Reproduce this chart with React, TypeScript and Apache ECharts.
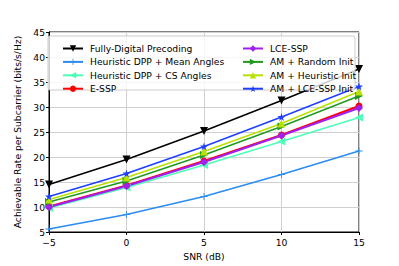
import React, { useEffect, useRef } from "react";
import * as echarts from "echarts";

const snr = [-5, 0, 5, 10, 15];
const fullyDigital = [14.5, 19.5, 25.2, 31.3, 37.6];
const heurMean = [5.6, 8.5, 12.1, 16.5, 21.2];
const heurCS = [9.8, 13.9, 18.4, 23.1, 27.9];
const eSSP = [10.1, 14.3, 19.2, 24.4, 30.2];
const lceSSP = [10.0, 14.2, 19.0, 24.3, 29.8];
const amRandom = [11.0, 15.2, 20.4, 26.1, 32.2];
const amHeur = [11.5, 15.9, 21.1, 26.7, 33.1];
const amLce = [12.1, 16.7, 22.1, 28.0, 34.1];

const names = [
  "Fully-Digital Precoding",
  "Heuristic DPP + Mean Angles",
  "Heuristic DPP + CS Angles",
  "E-SSP",
  "LCE-SSP",
  "AM + Random Init",
  "AM + Heuristic Init",
  "AM + LCE-SSP Init",
];

const FONT = "DejaVu Sans";
const FS = 9.2;
const plus = "path://M-1,-0.12H1V0.12H-1Z M-0.12,-1H0.12V1H-0.12Z";
const star =
  "path://M0,-1L0.2245,-0.309L0.951,-0.309L0.363,0.118L0.588,0.809L0,0.382L-0.588,0.809L-0.363,0.118L-0.951,-0.309L-0.2245,-0.309Z";

export default function App() {
  const ref = useRef<HTMLDivElement>(null);
  useEffect(() => {
    const chart = echarts.init(ref.current!, null, { renderer: "svg" });
    const mk = (
      name: string,
      vals: number[],
      color: string,
      symbol: string,
      size: number,
      rotate = 0,
      width = 1.5
    ) => ({
      name,
      type: "line",
      data: snr.map((x, i) => [x, vals[i]]),
      symbol,
      symbolSize: size,
      symbolRotate: rotate,
      showSymbol: true,
      lineStyle: { color, width },
      itemStyle: { color },
      z: 2,
    });
    const series = [
      mk(names[0], fullyDigital, "#000000", "triangle", 8, 180),
      mk(names[1], heurMean, "#2a8cf0", plus, 7),
      mk(names[2], heurCS, "#4dffb8", "triangle", 8, 90),
      mk(names[3], eSSP, "#ff0000", "circle", 7, 0, 2),
      mk(names[4], lceSSP, "#a020f0", "diamond", 8, 0, 2),
      mk(names[5], amRandom, "#1f9a1f", "triangle", 8, -90),
      mk(names[6], amHeur, "#b8e000", "triangle", 8),
      mk(names[7], amLce, "#1f3fff", star, 8),
    ];
    const legendCommon = {
      orient: "vertical" as const,
      itemWidth: 20,
      itemHeight: 8,
      itemGap: 2.4,
      z: 20,
      textStyle: {
        fontFamily: FONT,
        fontSize: FS,
        color: "#000",
        lineHeight: 11,
        padding: [0, 0, 0, 2],
      },
      backgroundColor: "transparent",
    };
    chart.setOption({
      animation: false,
      grid: {
        left: 49,
        right: 40,
        top: 32,
        bottom: 34,
        show: true,
        borderColor: "#000",
        borderWidth: 1,
        backgroundColor: "transparent",
      },
      legend: [
        { ...legendCommon, data: names.slice(0, 4), left: 57, top: 38 },
        { ...legendCommon, data: names.slice(4), left: 237, top: 38 },
      ],
      graphic: [
        {
          type: "rect",
          shape: { x: 48, y: 36, width: 307, height: 54, r: 2 },
          style: { fill: "rgba(255,255,255,0.8)", stroke: "#cccccc", lineWidth: 1 },
          z: 10,
        },
      ],
      xAxis: {
        type: "value",
        min: -5,
        max: 15,
        interval: 5,
        name: "SNR (dB)",
        nameLocation: "middle",
        nameGap: 20,
        nameTextStyle: { fontFamily: FONT, fontSize: FS, color: "#000" },
        axisLine: { show: true, onZero: false, lineStyle: { color: "#000" } },
        axisTick: { show: true, length: 3, lineStyle: { color: "#000" } },
        axisLabel: {
          fontFamily: FONT,
          fontSize: FS,
          color: "#000",
          margin: 6,
          formatter: (v: number) => (v < 0 ? "\u2212" + Math.abs(v) : String(v)),
        },
        splitLine: { show: true, lineStyle: { color: "#d0d0d0", width: 1 } },
      },
      yAxis: {
        type: "value",
        min: 5,
        max: 45,
        interval: 5,
        name: "Achievable Rate per Subcarrier (bits/s/Hz)",
        nameLocation: "middle",
        nameGap: 25,
        nameTextStyle: { fontFamily: FONT, fontSize: FS, color: "#000" },
        axisLine: { show: true, onZero: false, lineStyle: { color: "#000" } },
        axisTick: { show: true, length: 3, lineStyle: { color: "#000" } },
        axisLabel: { fontFamily: FONT, fontSize: FS, color: "#000", margin: 4 },
        splitLine: { show: true, lineStyle: { color: "#d0d0d0", width: 1 } },
      },
      series,
    });
    return () => chart.dispose();
  }, []);
  return <div ref={ref} style={{ width: 399, height: 266, position: "absolute", left: 0, top: 0 }} />;
}
